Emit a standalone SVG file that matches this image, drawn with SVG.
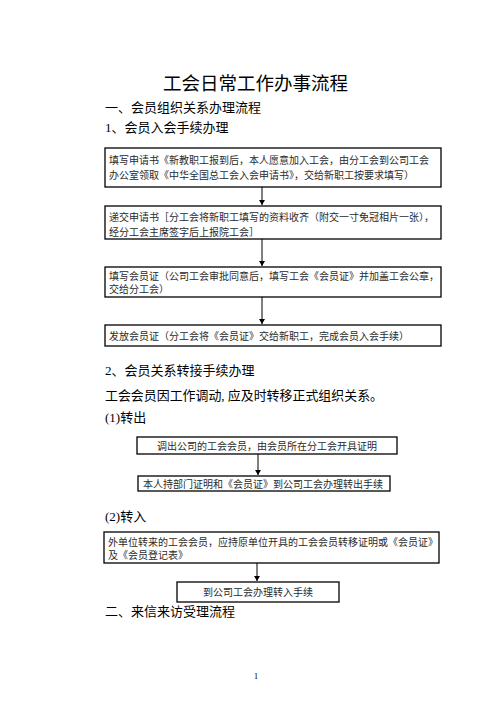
<svg xmlns="http://www.w3.org/2000/svg" width="496" height="702" viewBox="0 0 496 702">
<defs>
<marker id="ah" markerWidth="6" markerHeight="6" refX="5" refY="3" orient="auto" markerUnits="userSpaceOnUse">
<path d="M0,0 L5,3 L0,6 Z" fill="#000"/>
</marker>
<style>
.box{fill:#fff;stroke:#000;stroke-width:1.3}
.bt{font-family:"Liberation Serif","Noto Sans CJK SC",serif;font-size:10px;fill:#2a2a2a}
.h{font-family:"Liberation Serif","Noto Sans CJK SC",sans-serif;font-size:13px;fill:#000}
.title{font-family:"Liberation Sans","Noto Sans CJK SC",sans-serif;font-size:18.5px;fill:#000}
.conn{stroke:#000;stroke-width:1;fill:none}
</style>
</defs>
<rect width="496" height="702" fill="#fff"/>
<text class="title" x="255.5" y="90" text-anchor="middle">工会日常工作办事流程</text>
<text class="h" x="105" y="112">一、会员组织关系办理流程</text>
<text class="h" x="105" y="132">1、会员入会手续办理</text>
<text class="h" x="105" y="375">2、会员关系转接手续办理</text>
<text class="h" x="105" y="400" textLength="278" lengthAdjust="spacingAndGlyphs">工会会员因工作调动, 应及时转移正式组织关系。</text>
<text class="h" x="105" y="422">(1)转出</text>
<text class="h" x="105" y="521">(2)转入</text>
<text class="h" x="105" y="616">二、来信来访受理流程</text>
<g id="connectors">
<path class="conn" d="M262,187 V205" marker-end="url(#ah)"/>
<path class="conn" d="M262,239 V266" marker-end="url(#ah)"/>
<path class="conn" d="M262,297 V324" marker-end="url(#ah)"/>
<path class="conn" d="M258,454 V475" marker-end="url(#ah)"/>
<path class="conn" d="M257,563 V581" marker-end="url(#ah)"/>
</g>
<g id="n1"><rect class="box" x="105" y="148" width="336" height="39"/>
<text class="bt" x="109" y="164">填写申请书《新教职工报到后，本人愿意加入工会，由分工会到公司工会</text>
<text class="bt" x="109" y="179">办公室领取《中华全国总工会入会申请书》，交给新职工按要求填写）</text></g>
<g id="n2"><rect class="box" x="105" y="206" width="336" height="33"/>
<text class="bt" x="109" y="221">递交申请书［分工会将新职工填写的资料收齐（附交一寸免冠相片一张），</text>
<text class="bt" x="109" y="236">经分工会主席签字后上报院工会］</text></g>
<g id="n3"><rect class="box" x="105" y="267" width="336" height="30"/>
<text class="bt" x="109" y="280">填写会员证（公司工会审批同意后，填写工会《会员证》并加盖工会公章，</text>
<text class="bt" x="109" y="293">交给分工会）</text></g>
<g id="n4"><rect class="box" x="105" y="325" width="336" height="21"/>
<text class="bt" x="109" y="339.5">发放会员证（分工会将《会员证》交给新职工，完成会员入会手续）</text></g>
<g id="n5"><rect class="box" x="137" y="437" width="260" height="17"/>
<text class="bt" x="267" y="449.5" text-anchor="middle">调出公司的工会会员，由会员所在分工会开具证明</text></g>
<g id="n6"><rect class="box" x="138" y="476" width="252" height="15"/>
<text class="bt" x="143" y="487.5">本人持部门证明和《会员证》到公司工会办理转出手续</text></g>
<g id="n7"><rect class="box" x="104" y="532" width="335" height="31"/>
<text class="bt" x="108" y="545.5">外单位转来的工会会员，应持原单位开具的工会会员转移证明或《会员证》</text>
<text class="bt" x="108" y="558.5">及《会员登记表》</text></g>
<g id="n8"><rect class="box" x="177" y="582" width="162" height="20"/>
<text class="bt" x="258" y="595.5" text-anchor="middle">到公司工会办理转入手续</text></g>
<text x="256" y="679" text-anchor="middle" style="font-family:'Liberation Serif',serif;font-size:9px;fill:#000">1</text>
</svg>
